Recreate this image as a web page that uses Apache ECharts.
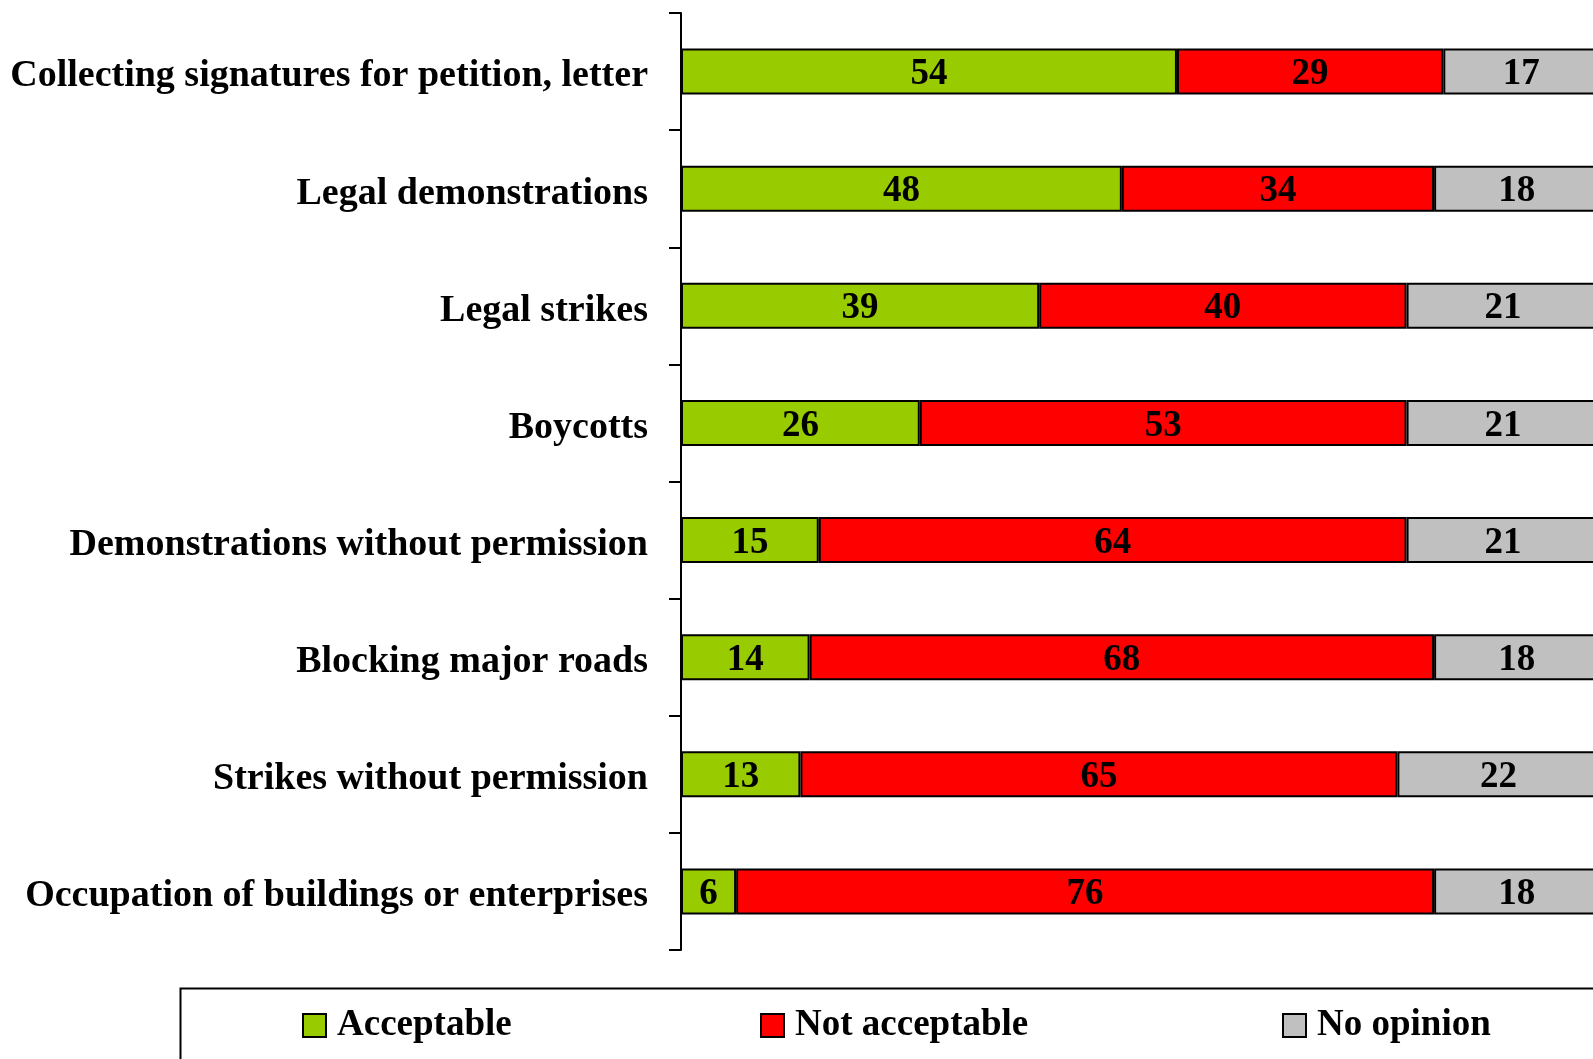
<!DOCTYPE html>
<html>
<head>
<meta charset="utf-8">
<script src="https://cdn.jsdelivr.net/npm/echarts@6/dist/echarts.min.js"></script>
<style>
  html, body { margin: 0; padding: 0; background: #fff; }
  #chart { width: 1593px; height: 1059px; }
</style>
</head>
<body>
<div id="chart"></div>
<script>
  // survey data, top row first
  var categories = [
    'Collecting signatures for petition, letter',
    'Legal demonstrations',
    'Legal strikes',
    'Boycotts',
    'Demonstrations without permission',
    'Blocking major roads',
    'Strikes without permission',
    'Occupation of buildings or enterprises'
  ];
  var acceptable = [54, 48, 39, 26, 15, 14, 13, 6];
  var notAcceptable = [29, 34, 40, 53, 64, 68, 65, 76];
  var noOpinion = [17, 18, 21, 21, 21, 18, 22, 18];

  var font = '"Liberation Serif", "Times New Roman", serif';
  var colors = ['#99CC00', '#FF0000', '#C0C0C0'];
  var names = ['Acceptable', 'Not acceptable', 'No opinion'];
  var values = [acceptable, notAcceptable, noOpinion];

  var series = [];
  for (let i = 0; i < names.length; i++) {
    series.push({
      name: names[i],
      type: 'bar',
      stack: 'total',
      clip: false,
      barWidth: 46,
      data: values[i],
      itemStyle: {color: colors[i], borderColor: '#000', borderWidth: 2},
      label: {
        show: true,
        position: 'inside',
        offset: [0, 3],
        color: '#000',
        fontFamily: font,
        fontWeight: 'bold',
        fontSize: 37
      }
    });
  }

  function legendAt(name, left) {
    return {
      data: [name],
      left: left,
      top: 1007,
      icon: 'rect',
      itemWidth: 23,
      itemHeight: 23,
      padding: 0,
      textStyle: {
        color: '#000',
        fontFamily: font,
        fontWeight: 'bold',
        fontSize: 37,
        padding: [0, 0, 0, 6]
      }
    };
  }

  var myChart = echarts.init(document.getElementById('chart'));
  myChart.setOption({
    animation: false,
    backgroundColor: '#fff',
    grid: {left: 681, top: 13, right: 0, bottom: 109},
    xAxis: {
      type: 'value',
      min: 0,
      max: 99.3,  // the 100% end sits just past the right edge in the original
      show: false
    },
    yAxis: {
      type: 'category',
      inverse: true,
      data: categories,
      axisLine: {show: true, lineStyle: {color: '#000', width: 2}},
      axisTick: {show: true, length: 12, lineStyle: {color: '#000', width: 2}},
      axisLabel: {
        margin: 33,
        formatter: function (v) {
          return '{a|' + v + '}';
        },
        rich: {
          a: {
            color: '#000',
            fontFamily: font,
            fontWeight: 'bold',
            fontSize: 38,
            padding: [10, 0, 0, 0]
          }
        }
      }
    },
    legend: [
      legendAt('Acceptable', 302),
      legendAt('Not acceptable', 760),
      legendAt('No opinion', 1282)
    ],
    graphic: [{
      type: 'rect',
      left: 178,
      top: 986,
      shape: {width: 1500, height: 200},
      style: {fill: 'none', stroke: '#000', lineWidth: 2}
    }],
    series: series
  });
</script>
</body>
</html>
